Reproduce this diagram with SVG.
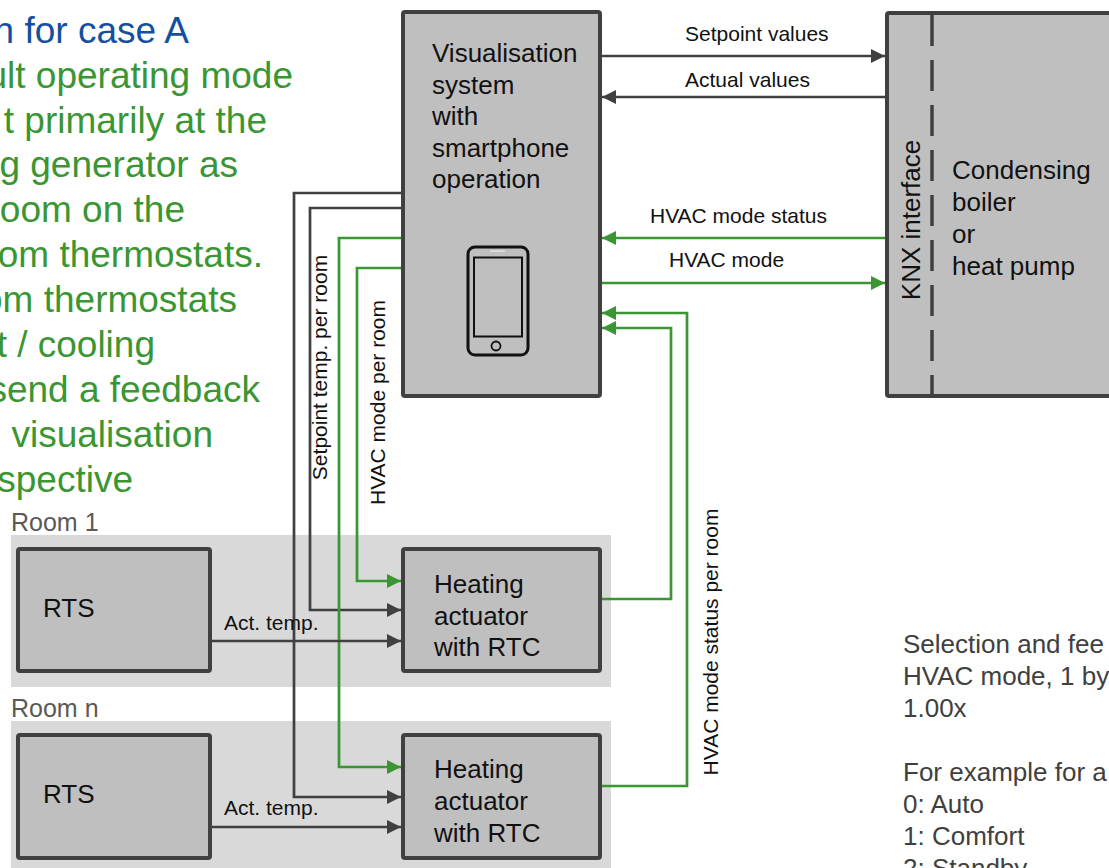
<svg xmlns="http://www.w3.org/2000/svg" width="1109" height="868" viewBox="0 0 1109 868">
<style>
text{font-family:"Liberation Sans",Arial,sans-serif;}
.intro{font-size:37px;fill:#3a9632;text-anchor:end;}
.title{font-size:37px;fill:#1550a0;text-anchor:end;}
.box{fill:#bfbfbf;stroke:#404040;stroke-width:4;}
.room{fill:#d9d9d9;}
.rl{font-size:25px;fill:#595959;}
.bt{font-size:26px;fill:#111;}
.lb{font-size:21px;fill:#111;}
.note{font-size:26px;fill:#404040;}
.g{fill:none;stroke:#404040;stroke-width:2.7;}
.gr{fill:none;stroke:#3a9632;stroke-width:2.7;}
</style>
<defs>
<marker id="ag" markerUnits="userSpaceOnUse" markerWidth="15" markerHeight="15" refX="14" refY="7" orient="auto"><path d="M0,0 L14,7 L0,14 z" fill="#404040"/></marker>
<marker id="agr" markerUnits="userSpaceOnUse" markerWidth="15" markerHeight="15" refX="14" refY="7" orient="auto"><path d="M0,0 L14,7 L0,14 z" fill="#3a9632"/></marker>
</defs>
<rect width="1109" height="868" fill="#fff"/>

<g id="intro-text">
<text class="title" x="189" y="43">n for case A</text>
<text class="intro" x="293" y="88">ult operating mode</text>
<text class="intro" x="267" y="132.5">t primarily at the</text>
<text class="intro" x="238" y="177">g generator as</text>
<text class="intro" x="185" y="222">oom on the</text>
<text class="intro" x="263" y="267">om thermostats.</text>
<text class="intro" x="237" y="312">om thermostats</text>
<text class="intro" x="155" y="357">t / cooling</text>
<text class="intro" x="260" y="402">send a feedback</text>
<text class="intro" x="213" y="447">visualisation</text>
<text class="intro" x="133" y="492">spective</text>
</g>

<g id="room1">
<rect class="room" x="11" y="535" width="600" height="152"/>
<text class="rl" x="11" y="531">Room 1</text>
</g>
<g id="roomn">
<rect class="room" x="11" y="721" width="600" height="150"/>
<text class="rl" x="11" y="717">Room n</text>
</g>

<g id="connectors">
<path class="g" d="M602,56 H885" marker-end="url(#ag)"/>
<path class="g" d="M885,97 H602" marker-end="url(#ag)"/>
<path class="gr" d="M885,238 H602" marker-end="url(#agr)"/>
<path class="gr" d="M602,283 H885" marker-end="url(#agr)"/>
<path class="g" d="M401,193 H294 V797 H401" marker-end="url(#ag)"/>
<path class="g" d="M401,208 H310 V610 H401" marker-end="url(#ag)"/>
<path class="gr" d="M401,238 H339 V767 H401" marker-end="url(#agr)"/>
<path class="gr" d="M401,268 H357 V581 H401" marker-end="url(#agr)"/>
<path class="g" d="M212,641 H401" marker-end="url(#ag)"/>
<path class="g" d="M212,827 H401" marker-end="url(#ag)"/>
<path class="gr" d="M601,599 H671 V328 H602" marker-end="url(#agr)"/>
<path class="gr" d="M601,786 H687 V313 H602" marker-end="url(#agr)"/>
<text class="lb" x="685" y="41">Setpoint values</text>
<text class="lb" x="685" y="87">Actual values</text>
<text class="lb" x="650" y="223">HVAC mode status</text>
<text class="lb" x="669" y="267">HVAC mode</text>
<text class="lb" x="327" y="367.5" text-anchor="middle" transform="rotate(-90 327 367.5)">Setpoint temp. per room</text>
<text class="lb" x="385" y="402.5" text-anchor="middle" transform="rotate(-90 385 402.5)">HVAC mode per room</text>
<text class="lb" x="718" y="642" text-anchor="middle" transform="rotate(-90 718 642)">HVAC mode status per room</text>
<text class="lb" x="224" y="630">Act. temp.</text>
<text class="lb" x="224" y="815">Act. temp.</text>
</g>

<g id="visualisation">
<rect class="box" x="403" y="12" width="197" height="384" rx="2"/>
<text class="bt" x="432" y="62">Visualisation</text>
<text class="bt" x="432" y="93.5">system</text>
<text class="bt" x="432" y="125">with</text>
<text class="bt" x="432" y="156.5">smartphone</text>
<text class="bt" x="432" y="188">operation</text>
<rect x="468" y="247" width="60" height="108" rx="7" fill="none" stroke="#111" stroke-width="3"/>
<rect x="474" y="257.5" width="48" height="79" fill="none" stroke="#111" stroke-width="2"/>
<line x1="490" y1="251" x2="505" y2="251" stroke="#e0e0e0" stroke-width="1.5"/>
<circle cx="496" cy="346" r="4.5" fill="none" stroke="#111" stroke-width="1.8"/>
</g>

<g id="boiler">
<rect class="box" x="887" y="13" width="240" height="383" rx="2"/>
<line x1="932" y1="15" x2="932" y2="394" stroke="#404040" stroke-width="3.5" stroke-dasharray="31 14"/>
<text class="bt" x="920" y="220" text-anchor="middle" transform="rotate(-90 920 220)">KNX interface</text>
<text class="bt" x="952" y="179">Condensing</text>
<text class="bt" x="952" y="211">boiler</text>
<text class="bt" x="952" y="243">or</text>
<text class="bt" x="952" y="275">heat pump</text>
</g>

<g id="rts1">
<rect class="box" x="18" y="549" width="192" height="122" rx="2"/>
<text class="bt" x="43" y="617">RTS</text>
</g>
<g id="actuator1">
<rect class="box" x="403" y="549" width="197" height="122" rx="2"/>
<text class="bt" x="434" y="593">Heating</text>
<text class="bt" x="434" y="624.5">actuator</text>
<text class="bt" x="434" y="656">with RTC</text>
</g>
<g id="rtsn">
<rect class="box" x="18" y="735" width="192" height="123" rx="2"/>
<text class="bt" x="43" y="803">RTS</text>
</g>
<g id="actuatorn">
<rect class="box" x="403" y="735" width="197" height="123" rx="2"/>
<text class="bt" x="434" y="778">Heating</text>
<text class="bt" x="434" y="810">actuator</text>
<text class="bt" x="434" y="842">with RTC</text>
</g>

<g id="note">
<text class="note" x="903" y="653">Selection and fee</text>
<text class="note" x="903" y="685">HVAC mode, 1 by</text>
<text class="note" x="903" y="717">1.00x</text>
<text class="note" x="903" y="781">For example for a</text>
<text class="note" x="903" y="813">0: Auto</text>
<text class="note" x="903" y="845">1: Comfort</text>
<text class="note" x="903" y="877">2: Standby</text>
</g>
</svg>
